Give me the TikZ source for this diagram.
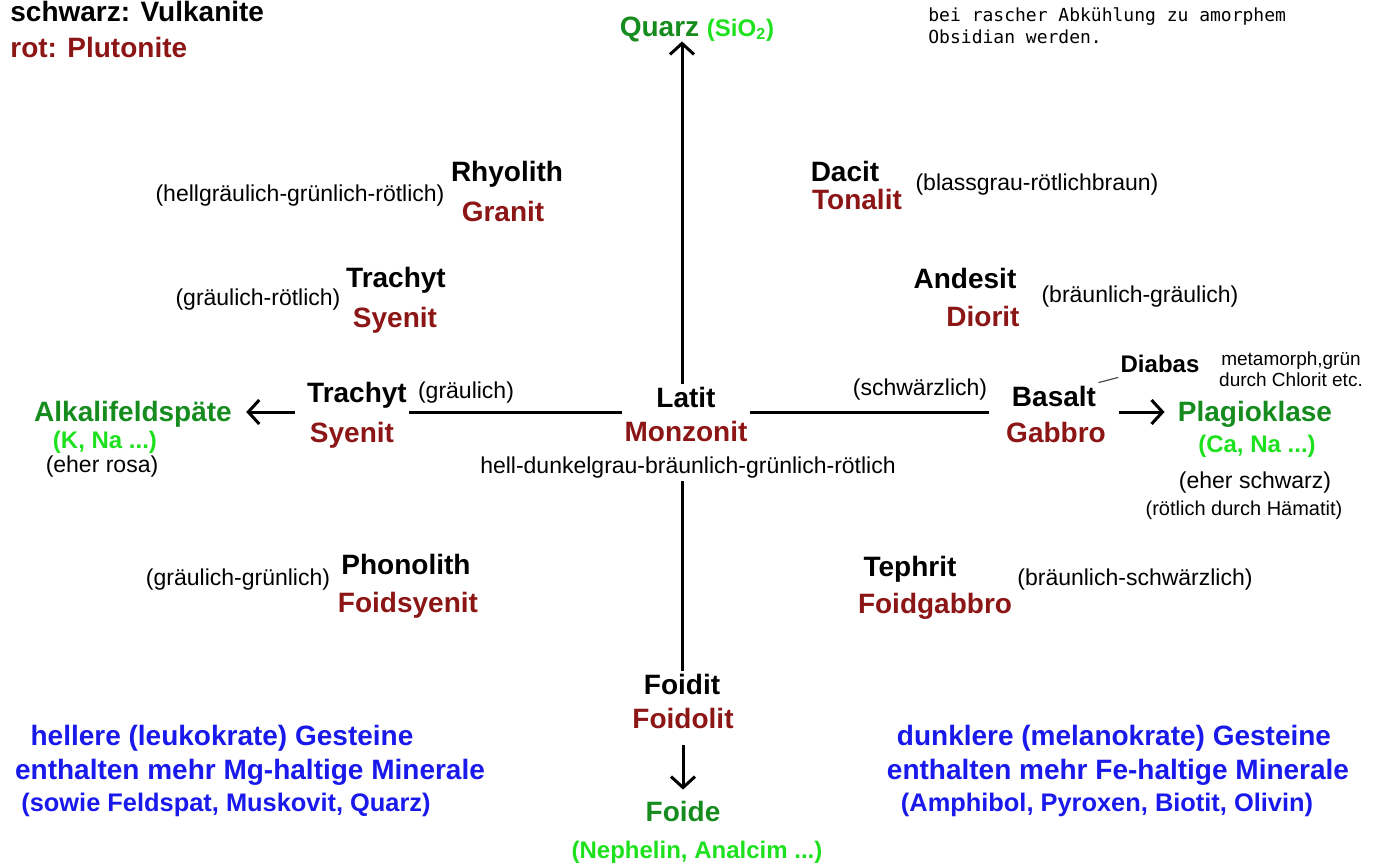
\documentclass[tikz,border=0pt]{standalone}
\usepackage{fontspec}
\setmainfont{Liberation Sans}
\newfontfamily\pixelfont{DejaVu Sans Mono}
\usepackage{xcolor}
\usepackage{tikz}
\usetikzlibrary{arrows.meta,positioning}
\definecolor{plutred}{RGB}{140,22,22}
\definecolor{mingreen}{RGB}{22,140,30}
\definecolor{iongreen}{RGB}{30,225,30}
\definecolor{hinweisblau}{RGB}{25,25,235}
\tikzset{
  vulk/.style={font=\bfseries\fontsize{14}{16}\selectfont,text=black,inner sep=1pt,
               text height=10.5pt,text depth=1.5pt},
  pluto/.style={vulk,text=plutred},
  farbe/.style={font=\fontsize{11.5}{13}\selectfont,inner sep=1pt},
  mineral/.style={vulk,text=mingreen},
  ion/.style={font=\bfseries\fontsize{12}{14}\selectfont,text=iongreen,inner sep=1pt},
  hinweis/.style={font=\bfseries\fontsize{14}{16}\selectfont,text=hinweisblau,inner sep=1pt},
  klammer/.style={hinweis,font=\bfseries\fontsize{12.7}{15}\selectfont},
  notiz/.style={font=\fontsize{9.5}{10.5}\selectfont,align=center,inner sep=1pt},
  achse/.style={line width=1.5pt,draw=black},
  pfeil/.style={achse,-{Straight Barb[length=5.5pt,width=12pt]}},
}

\begin{document}
\begin{tikzpicture}[x=0.5pt,y=-0.5pt]
  \useasboundingbox (0,0) rectangle (1383,863);
  % legende
  \node[vulk,anchor=base west] (legvulk) at (8,21) {schwarz: Vulkanite};
  \node[pluto,anchor=west] (legpluto) at (8,48) {rot: Plutonite};
  \node[anchor=west,align=left,inner sep=0pt,font=\pixelfont\fontsize{9}{11}\selectfont]
    (obsidian) at (928,26) {bei rascher Abkühlung zu amorphem\\Obsidian werden.};

  % mineral-pole
  \node[mineral] (quarz) at (697,27) {Quarz {\color{iongreen}\fontsize{12}{14}\selectfont(SiO\textsubscript{2})}};
  \node[mineral] (alkali) at (133,412) {Alkalifeldspäte};
  \node[ion] (kna) at (105,442) {(K, Na ...)};
  \node[farbe] (rosa) at (102,467) {(eher rosa)};
  \node[mineral] (plagio) at (1255,412) {Plagioklase};
  \node[ion] (cana) at (1257,446) {(Ca, Na ...)};
  \node[farbe] (schwarz) at (1255,483) {(eher schwarz)};
  \node[farbe,font=\fontsize{10}{12}\selectfont] (haematit) at (1244,510) {(rötlich durch Hämatit)};
  \node[mineral] (foide) at (683,812) {Foide};
  \node[ion] (nephelin) at (697,852) {(Nephelin, Analcim ...)};

  % gesteine
  \node[vulk] (latit) at (686,398) {Latit};
  \node[pluto] (monzonit) at (686,432) {Monzonit};
  \node[farbe] (hell) at (688,468) {hell-dunkelgrau-bräunlich-grünlich-rötlich};

  \node[vulk] (rhyolith) at (507,172) {Rhyolith};
  \node[pluto] (granit) at (503,212) {Granit};
  \node[farbe] (hellgr) at (300,196) {(hellgräulich-grünlich-rötlich)};

  \node[vulk] (trachytO) at (396,278) {Trachyt};
  \node[pluto] (syenitO) at (395,318) {Syenit};
  \node[farbe] (graeurot) at (258,300) {(gräulich-rötlich)};

  \node[vulk] (trachytM) at (357,393) {Trachyt};
  \node[pluto] (syenitM) at (352,433) {Syenit};
  \node[farbe] (graeul) at (466,393) {(gräulich)};

  \node[vulk] (phonolith) at (406,565) {Phonolith};
  \node[pluto] (foidsyenit) at (408,603) {Foidsyenit};
  \node[farbe] (graeugruen) at (238,580) {(gräulich-grünlich)};

  \node[vulk] (dacit) at (845,172) {Dacit};
  \node[pluto] (tonalit) at (857,200) {Tonalit};
  \node[farbe] (blassgrau) at (1037,185) {(blassgrau-rötlichbraun)};

  \node[vulk] (andesit) at (965,279) {Andesit};
  \node[pluto] (diorit) at (983,317) {Diorit};
  \node[farbe] (braeugrae) at (1140,297) {(bräunlich-gräulich)};

  \node[vulk] (basalt) at (1054,397) {Basalt};
  \node[pluto] (gabbro) at (1056,433) {Gabbro};
  \node[farbe] (schwaerzl) at (920,390) {(schwärzlich)};
  \node[vulk,font=\bfseries\fontsize{12}{14}\selectfont] (diabas) at (1160,363) {Diabas};
  \node[notiz] (metamorph) at (1291,369) {metamorph,grün\\durch Chlorit etc.};

  \node[vulk] (tephrit) at (910,567) {Tephrit};
  \node[pluto] (foidgabbro) at (935,604) {Foidgabbro};
  \node[farbe] (braeuschw) at (1135,580) {(bräunlich-schwärzlich)};

  \node[vulk] (foidit) at (682,685) {Foidit};
  \node[pluto] (foidolit) at (683,719) {Foidolit};

  % hinweise
  \node[hinweis] (leuko1) at (222,738) {hellere (leukokrate) Gesteine};
  \node[hinweis] (leuko2) at (250,772) {enthalten mehr Mg-haltige Minerale};
  \node[klammer] (leuko3) at (226,805) {(sowie Feldspat, Muskovit, Quarz)};
  \node[hinweis] (melano1) at (1114,738) {dunklere (melanokrate) Gesteine};
  \node[hinweis] (melano2) at (1118,772) {enthalten mehr Fe-haltige Minerale};
  \node[klammer] (melano3) at (1107,805) {(Amphibol, Pyroxen, Biotit, Olivin)};

  % achsen
  \draw[pfeil] (latit.north -| foidit) -- (quarz.south -| foidit);
  \draw[achse] (hell.south -| foidit) -- (foidit.north);
  \draw[achse] (trachytM.east |- alkali) -- (monzonit.west |- alkali);
  \draw[achse] (monzonit.east |- alkali) -- (schwaerzl.east |- alkali);
  \draw[pfeil,shorten <=5pt,shorten >=6pt] (trachytM.west |- alkali) -- (alkali.east);
  \draw[pfeil,shorten <=5.5pt,shorten >=5.5pt] (gabbro.east |- plagio) -- (plagio.west);
  \draw[pfeil,shorten <=6pt,shorten >=4pt] (foidolit.south) -- (foide.north);
  \draw[line width=0.6pt,gray!60!black] (basalt.north east) -- (diabas.south west);
\end{tikzpicture}
\end{document}
